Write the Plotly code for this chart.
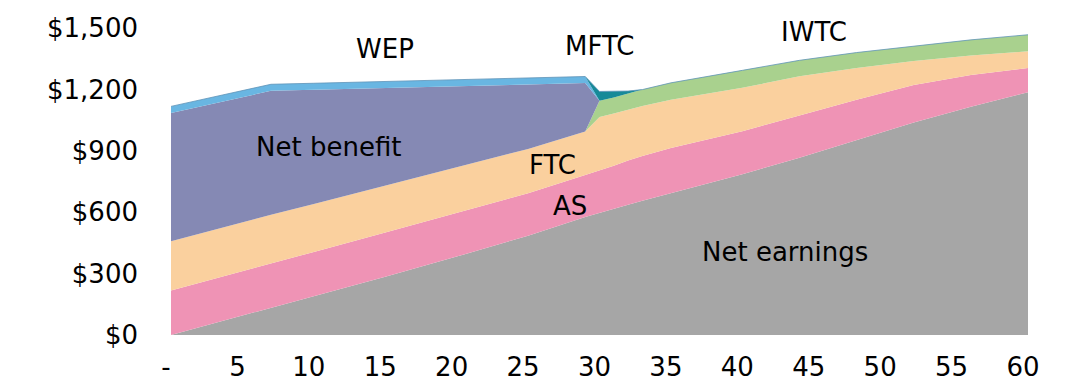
import plotly.graph_objects as go

# Hours worked per week
hours = [0, 5, 7, 10, 15, 20, 25, 29, 30, 31, 32, 33, 35, 40, 44, 48, 52, 56, 60]

# Weekly income components ($), stacked from the bottom up
net_earnings = [0, 95, 134, 188, 285, 383, 485, 577, 598, 617, 637, 656, 694, 786, 866, 952, 1038, 1115, 1186]
accom_supp = [217, 218, 218, 218, 216, 214, 208, 205, 205, 210, 215, 218, 220, 210, 206, 197, 183, 155, 119]
family_tc = [241, 238, 236, 234, 228, 222, 216, 212, 262, 255, 250, 245, 236, 212, 192, 155, 118, 96, 81]
in_work_tc = [0, 0, 0, 0, 0, 0, 0, 0, 80, 78, 78, 80, 82, 85, 78, 76, 73, 76, 81]
net_benefit = [627, 611, 605, 558, 478, 396, 315, 237, 0, 0, 0, 0, 0, 0, 0, 0, 0, 0, 0]
winter_energy = [32, 32, 32, 32, 32, 32, 32, 32, 0, 0, 0, 0, 0, 0, 0, 0, 0, 0, 0]
min_family_tc = [0, 0, 0, 0, 0, 0, 0, 0, 45, 30, 12, 0, 0, 0, 0, 0, 0, 0, 0]

series = [
    ("Net earnings", net_earnings, "#A6A6A6"),
    ("AS", accom_supp, "#EF93B5"),
    ("FTC", family_tc, "#FAD09E"),
    ("IWTC", in_work_tc, "#A9D18E"),
    ("Net benefit", net_benefit, "#8589B4"),
    ("WEP", winter_energy, "#69B6E2"),
    ("MFTC", min_family_tc, "#178A98"),
]

fig = go.Figure()
for name, vals, color in series:
    top_line = name == "MFTC"
    fig.add_trace(go.Scatter(
        x=hours, y=vals, name=name, mode="lines",
        stackgroup="one", fillcolor=color,
        line=dict(width=0.8 if top_line else 0, color="#5E93B8" if top_line else color),
        hoverinfo="skip",
    ))

# Series labels placed inside / next to their areas
labels = [
    ("WEP", 15.0, 1397),
    ("Net benefit", 11.0, 918),
    ("MFTC", 30.0, 1412),
    ("IWTC", 45.0, 1480),
    ("FTC", 26.7, 830),
    ("AS", 27.9, 630),
    ("Net earnings", 43.0, 405),
]
for text, x, y in labels:
    fig.add_annotation(x=x, y=y, text=text, showarrow=False,
                       font=dict(family="DejaVu Sans", size=26, color="#000000"),
                       xanchor="center", yanchor="middle", yshift=0)

x_ticks = list(range(0, 61, 5))
x_text = ["-"] + [str(v) for v in x_ticks[1:]]
y_ticks = [0, 300, 600, 900, 1200, 1500]
y_text = ["$" + f"{v:,}" for v in y_ticks]

fig.update_layout(
    width=1087, height=385,
    margin=dict(l=171, r=59, t=28, b=50),
    paper_bgcolor="white", plot_bgcolor="white",
    showlegend=False,
    font=dict(family="DejaVu Sans", size=26, color="#000000"),
    xaxis=dict(range=[0, 60], tickvals=x_ticks, ticktext=x_text,
               showgrid=False, zeroline=False, showline=False, automargin=False,
               ticks="", ticklabelstandoff=14, ticklabelshift=-5),
    yaxis=dict(range=[0, 1500], tickvals=y_ticks, ticktext=y_text,
               showgrid=False, zeroline=False, showline=False, automargin=False,
               ticks="", ticklabelstandoff=32),
)

fig.write_html("out.html")
